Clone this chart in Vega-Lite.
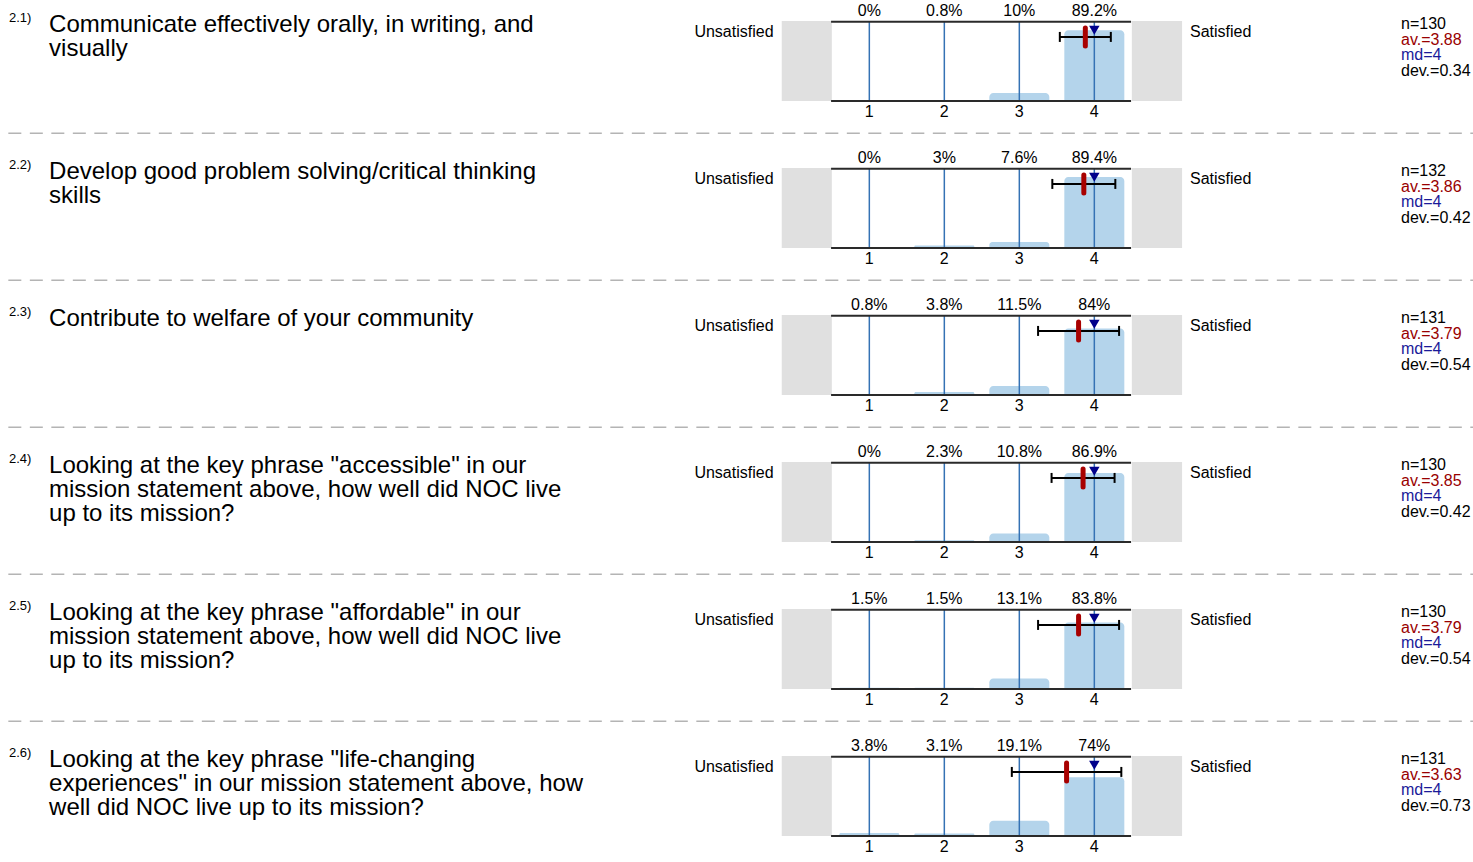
{
  "$schema": "https://vega.github.io/schema/vega-lite/v6.json",
  "padding": 0,
  "spacing": 0,
  "bounds": "flush",
  "background": "white",
  "config": {
    "font": "Liberation Sans",
    "view": {"stroke": null},
    "axis": {"disable": true},
    "scale": {"continuousPadding": 0},
    "text": {"font": "Liberation Sans", "color": "#000000"}
  },
  "data": {
    "values": [
      {"q": "2.1", "k": "b", "v": 1, "p": 0},
      {"q": "2.1", "k": "b", "v": 2, "p": 0.008},
      {"q": "2.1", "k": "b", "v": 3, "p": 0.1},
      {"q": "2.1", "k": "b", "v": 4, "p": 0.892},
      {"q": "2.2", "k": "b", "v": 1, "p": 0},
      {"q": "2.2", "k": "b", "v": 2, "p": 0.03},
      {"q": "2.2", "k": "b", "v": 3, "p": 0.076},
      {"q": "2.2", "k": "b", "v": 4, "p": 0.894},
      {"q": "2.3", "k": "b", "v": 1, "p": 0.008},
      {"q": "2.3", "k": "b", "v": 2, "p": 0.038},
      {"q": "2.3", "k": "b", "v": 3, "p": 0.115},
      {"q": "2.3", "k": "b", "v": 4, "p": 0.84},
      {"q": "2.4", "k": "b", "v": 1, "p": 0},
      {"q": "2.4", "k": "b", "v": 2, "p": 0.023},
      {"q": "2.4", "k": "b", "v": 3, "p": 0.108},
      {"q": "2.4", "k": "b", "v": 4, "p": 0.869},
      {"q": "2.5", "k": "b", "v": 1, "p": 0.015},
      {"q": "2.5", "k": "b", "v": 2, "p": 0.015},
      {"q": "2.5", "k": "b", "v": 3, "p": 0.131},
      {"q": "2.5", "k": "b", "v": 4, "p": 0.838},
      {"q": "2.6", "k": "b", "v": 1, "p": 0.038},
      {"q": "2.6", "k": "b", "v": 2, "p": 0.031},
      {"q": "2.6", "k": "b", "v": 3, "p": 0.191},
      {"q": "2.6", "k": "b", "v": 4, "p": 0.74},
      {"q": "2.1", "k": "s", "num": "2.1)", "t": "Communicate effectively orally, in writing, and\nvisually", "n": "n=130", "av": "av.=3.88", "md": "md=4", "dev": "dev.=0.34", "mean": 3.88, "median": 4, "lo": 3.54, "hi": 4.22},
      {"q": "2.2", "k": "s", "num": "2.2)", "t": "Develop good problem solving/critical thinking\nskills", "n": "n=132", "av": "av.=3.86", "md": "md=4", "dev": "dev.=0.42", "mean": 3.86, "median": 4, "lo": 3.44, "hi": 4.28},
      {"q": "2.3", "k": "s", "num": "2.3)", "t": "Contribute to welfare of your community", "n": "n=131", "av": "av.=3.79", "md": "md=4", "dev": "dev.=0.54", "mean": 3.79, "median": 4, "lo": 3.25, "hi": 4.33},
      {"q": "2.4", "k": "s", "num": "2.4)", "t": "Looking at the key phrase \"accessible\" in our\nmission statement above, how well did NOC live\nup to its mission?", "n": "n=130", "av": "av.=3.85", "md": "md=4", "dev": "dev.=0.42", "mean": 3.85, "median": 4, "lo": 3.43, "hi": 4.27},
      {"q": "2.5", "k": "s", "num": "2.5)", "t": "Looking at the key phrase \"affordable\" in our\nmission statement above, how well did NOC live\nup to its mission?", "n": "n=130", "av": "av.=3.79", "md": "md=4", "dev": "dev.=0.54", "mean": 3.79, "median": 4, "lo": 3.25, "hi": 4.33},
      {"q": "2.6", "k": "s", "num": "2.6)", "t": "Looking at the key phrase \"life-changing\nexperiences\" in our mission statement above, how\nwell did NOC live up to its mission?", "n": "n=131", "av": "av.=3.63", "md": "md=4", "dev": "dev.=0.73", "mean": 3.63, "median": 4, "lo": 2.9, "hi": 4.36}
    ]
  },
  "facet": {"row": {"field": "q", "type": "nominal", "header": null}},
  "spec": {
    "width": 1473,
    "height": 146.6,
    "layer": [
      {
        "transform": [{"filter": "datum.k === 's'"}],
        "mark": {"type": "rule", "color": "#b4b4b4", "strokeWidth": 1.5, "strokeDash": [13, 8.5]},
        "encoding": {
          "x": {"datum": -10.48, "type": "quantitative", "scale": {"domain": [-10.591, 9.049], "nice": false, "zero": false, "padding": 0}},
          "x2": {"datum": 9.049},
          "y": {"datum": -0.4073, "type": "quantitative", "scale": {"domain": [-0.575, 1.2737], "nice": false, "zero": false, "padding": 0}}
        }
      },
      {
        "transform": [{"filter": "datum.k === 's'"}],
        "mark": {"type": "rect", "color": "#e0e0e0"},
        "encoding": {
          "x": {"datum": -0.168, "type": "quantitative"},
          "x2": {"datum": 0.5},
          "y": {"datum": 0, "type": "quantitative"},
          "y2": {"datum": 1.01}
        }
      },
      {
        "transform": [{"filter": "datum.k === 's'"}],
        "mark": {"type": "rect", "color": "#e0e0e0"},
        "encoding": {
          "x": {"datum": 4.5, "type": "quantitative"},
          "x2": {"datum": 5.17},
          "y": {"datum": 0, "type": "quantitative"},
          "y2": {"datum": 1.01}
        }
      },
      {
        "transform": [{"filter": "datum.k === 'b'"}],
        "mark": {"type": "bar", "color": "#b4d4eb", "width": 60, "cornerRadiusTopLeft": 4, "cornerRadiusTopRight": 4},
        "encoding": {
          "x": {"field": "v", "type": "quantitative"},
          "y": {"field": "p", "type": "quantitative"},
          "y2": {"datum": 0}
        }
      },
      {
        "transform": [{"filter": "datum.k === 'b'"}],
        "mark": {"type": "rule", "color": "#3572b4", "strokeWidth": 1.5},
        "encoding": {
          "x": {"field": "v", "type": "quantitative"},
          "y": {"datum": 0, "type": "quantitative"},
          "y2": {"datum": 1}
        }
      },
      {
        "transform": [{"filter": "datum.k === 's'"}],
        "mark": {"type": "rule", "color": "#2a2a2a", "strokeWidth": 2},
        "encoding": {
          "x": {"datum": 0.49, "type": "quantitative"},
          "x2": {"datum": 4.49},
          "y": {"datum": 1, "type": "quantitative"}
        }
      },
      {
        "transform": [{"filter": "datum.k === 's'"}],
        "mark": {"type": "rule", "color": "#2a2a2a", "strokeWidth": 2},
        "encoding": {
          "x": {"datum": 0.49, "type": "quantitative"},
          "x2": {"datum": 4.49},
          "y": {"datum": 0, "type": "quantitative"}
        }
      },
      {
        "transform": [{"filter": "datum.k === 'b'"}],
        "mark": {"type": "text", "fontSize": 16, "align": "center", "baseline": "alphabetic"},
        "encoding": {
          "x": {"field": "v", "type": "quantitative"},
          "y": {"datum": 1.078, "type": "quantitative"},
          "text": {"field": "p", "type": "quantitative", "format": ".1~%"}
        }
      },
      {
        "transform": [{"filter": "datum.k === 'b'"}],
        "mark": {"type": "text", "fontSize": 16, "align": "center", "baseline": "alphabetic"},
        "encoding": {
          "x": {"field": "v", "type": "quantitative"},
          "y": {"datum": -0.198, "type": "quantitative"},
          "text": {"field": "v", "type": "nominal"}
        }
      },
      {
        "transform": [{"filter": "datum.k === 's'"}],
        "mark": {"type": "rule", "color": "#000000", "strokeWidth": 2},
        "encoding": {
          "x": {"field": "lo", "type": "quantitative"},
          "x2": {"field": "hi"},
          "y": {"datum": 0.8083, "type": "quantitative"}
        }
      },
      {
        "transform": [{"filter": "datum.k === 's'"}],
        "mark": {"type": "rule", "color": "#000000", "strokeWidth": 2},
        "encoding": {
          "x": {"field": "lo", "type": "quantitative"},
          "y": {"datum": 0.745, "type": "quantitative"},
          "y2": {"datum": 0.871}
        }
      },
      {
        "transform": [{"filter": "datum.k === 's'"}],
        "mark": {"type": "rule", "color": "#000000", "strokeWidth": 2},
        "encoding": {
          "x": {"field": "hi", "type": "quantitative"},
          "y": {"datum": 0.745, "type": "quantitative"},
          "y2": {"datum": 0.871}
        }
      },
      {
        "transform": [{"filter": "datum.k === 's'"}],
        "mark": {"type": "rule", "color": "#a80000", "strokeWidth": 5, "strokeCap": "round"},
        "encoding": {
          "x": {"field": "mean", "type": "quantitative"},
          "y": {"datum": 0.695, "type": "quantitative"},
          "y2": {"datum": 0.922}
        }
      },
      {
        "transform": [{"filter": "datum.k === 's'"}],
        "mark": {"type": "point", "shape": "triangle-down", "filled": true, "size": 110, "color": "#00008b", "opacity": 1},
        "encoding": {
          "x": {"field": "median", "type": "quantitative"},
          "y": {"datum": 0.8916, "type": "quantitative"}
        }
      },
      {
        "transform": [{"filter": "datum.k === 's'"}],
        "mark": {"type": "text", "fontSize": 16, "align": "right", "baseline": "alphabetic"},
        "encoding": {
          "x": {"datum": -0.277, "type": "quantitative"},
          "y": {"datum": 0.8033, "type": "quantitative"},
          "text": {"value": "Unsatisfied"}
        }
      },
      {
        "transform": [{"filter": "datum.k === 's'"}],
        "mark": {"type": "text", "fontSize": 16, "align": "left", "baseline": "alphabetic"},
        "encoding": {
          "x": {"datum": 5.276, "type": "quantitative"},
          "y": {"datum": 0.8033, "type": "quantitative"},
          "text": {"value": "Satisfied"}
        }
      },
      {
        "transform": [{"filter": "datum.k === 's'"}],
        "mark": {"type": "text", "fontSize": 13, "align": "left", "baseline": "alphabetic"},
        "encoding": {
          "x": {"datum": -10.471, "type": "quantitative"},
          "y": {"datum": 1.0025, "type": "quantitative"},
          "text": {"field": "num", "type": "nominal"}
        }
      },
      {
        "transform": [{"filter": "datum.k === 's'"}],
        "mark": {"type": "text", "fontSize": 24, "lineHeight": 24, "lineBreak": "\n", "align": "left", "baseline": "alphabetic"},
        "encoding": {
          "x": {"datum": -9.937, "type": "quantitative"},
          "y": {"datum": 0.8676, "type": "quantitative"},
          "text": {"field": "t", "type": "nominal"}
        }
      },
      {
        "transform": [{"filter": "datum.k === 's'"}],
        "mark": {"type": "text", "fontSize": 16, "align": "left", "baseline": "alphabetic", "color": "#000000"},
        "encoding": {
          "x": {"datum": 8.089, "type": "quantitative"},
          "y": {"datum": 0.9105, "type": "quantitative"},
          "text": {"field": "n", "type": "nominal"}
        }
      },
      {
        "transform": [{"filter": "datum.k === 's'"}],
        "mark": {"type": "text", "fontSize": 16, "align": "left", "baseline": "alphabetic", "color": "#990000"},
        "encoding": {
          "x": {"datum": 8.089, "type": "quantitative"},
          "y": {"datum": 0.7112, "type": "quantitative"},
          "text": {"field": "av", "type": "nominal"}
        }
      },
      {
        "transform": [{"filter": "datum.k === 's'"}],
        "mark": {"type": "text", "fontSize": 16, "align": "left", "baseline": "alphabetic", "color": "#1a1a99"},
        "encoding": {
          "x": {"datum": 8.089, "type": "quantitative"},
          "y": {"datum": 0.512, "type": "quantitative"},
          "text": {"field": "md", "type": "nominal"}
        }
      },
      {
        "transform": [{"filter": "datum.k === 's'"}],
        "mark": {"type": "text", "fontSize": 16, "align": "left", "baseline": "alphabetic", "color": "#000000"},
        "encoding": {
          "x": {"datum": 8.089, "type": "quantitative"},
          "y": {"datum": 0.3127, "type": "quantitative"},
          "text": {"field": "dev", "type": "nominal"}
        }
      }
    ]
  }
}
